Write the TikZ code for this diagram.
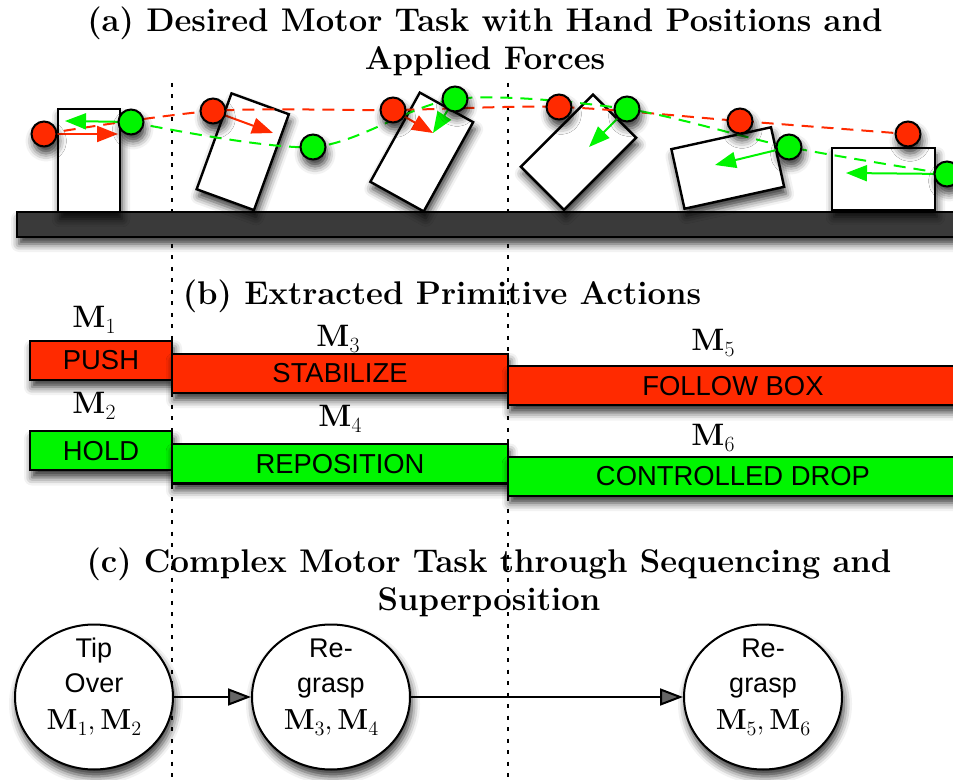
\documentclass[tikz,border=0pt]{standalone}
\usepackage{amsmath}
\usepackage{fontspec}
\setsansfont{Liberation Sans}
\usepackage{tikz}
\usetikzlibrary{arrows.meta, positioning, shapes.geometric, shadows.blur}
\definecolor{handred}{HTML}{FF2A00}
\definecolor{handgreen}{HTML}{00F500}
\definecolor{floorgray}{HTML}{3A3A3A}
\newcommand{\prim}[1]{\textbf{M}\raisebox{-0.2em}{\scalebox{0.7}{#1}}}
\newcommand{\primpair}[2]{{\fontsize{14.5}{17}\selectfont\rmfamily
  \textbf{M}\raisebox{-0.2em}{\scalebox{0.7}{#1}},\,\textbf{M}\raisebox{-0.2em}{\scalebox{0.7}{#2}}}}

\begin{document}
\begin{tikzpicture}[
        x=0.5pt, y=-0.5pt,
        soft/.style={blur shadow={shadow xshift=1pt, shadow yshift=-3.5pt,
                    shadow blur radius=4pt, shadow opacity=80}},
        title/.style={font=\fontsize{16.4}{19}\selectfont\bfseries, align=center, inner sep=0pt},
        crate/.style={rectangle, draw, line width=1.2pt, fill=white, minimum width=30.5pt,
                    minimum height=51pt, inner sep=0pt, soft},
        hand/.style={circle, draw, line width=1pt, minimum size=12.5pt, inner sep=0pt, soft},
        trail/.style={dash pattern=on 6pt off 4pt, line width=1pt},
        force/.style={-{Triangle[length=10.5pt, width=8pt]}, line width=1pt},
        act/.style={rectangle, draw, line width=1pt, minimum height=19.5pt, inner sep=0pt,
                    font=\sffamily\fontsize{13.7}{15}\selectfont, soft},
        mlab/.style={inner sep=0pt, font=\fontsize{15.5}{17}\selectfont},
        phase/.style={ellipse, draw, line width=1pt, fill=white, minimum width=79pt,
                    minimum height=72.5pt, inner sep=0pt,
                    font=\sffamily\fontsize{13.5}{17.5}\selectfont, soft},
        seq/.style={-{Triangle[length=11.5pt, width=8.5pt]}, line width=1pt},
        divider/.style={line width=1.1pt, dash pattern=on 2pt off 3.75pt}
      ]
        \useasboundingbox (0,0) rectangle (953,780);

        % phase borders
        \draw[divider] (172,83) -- (172,780);
        \draw[divider] (508,83) -- (508,780);

        % (a) the box being tipped over
        \node[title] (ttla) at (485,41) {(a) Desired Motor Task with Hand Positions and\\Applied Forces};
        \draw[line width=1.2pt, fill=floorgray, soft] (17,212) rectangle (965,237);
        \node[crate, minimum width=31pt, minimum height=51.5pt] (box1) at (89,160.5) {};
        \node[crate, rotate=-20] (box2) at (242.75,151.75) {};
        \node[crate, rotate=-29] (box3) at (421.75,152) {};
        \node[crate, rotate=-45] (box4) at (578.5,152.25) {};
        \node[crate, minimum width=51pt, minimum height=30.5pt, rotate=12.4] (box5) at (727.75,168) {};
        \node[crate, minimum width=51.5pt, minimum height=31pt] (box6) at (883.5,179) {};

        \coordinate (r1) at (44,134);  \coordinate (g1) at (131,122);
        \coordinate (r2) at (213,111); \coordinate (g2) at (313,147);
        \coordinate (r3) at (393,110); \coordinate (g3) at (455,99);
        \coordinate (r4) at (559,107); \coordinate (g4) at (627,109);
        \coordinate (r5) at (740,121); \coordinate (g5) at (789,147);
        \coordinate (r6) at (908,134); \coordinate (g6) at (947,174);

        \draw[trail, handred] plot[smooth] coordinates {(r1) (r2) (r3) (r4) (r5) (r6)};
        \draw[trail, handgreen] plot[smooth] coordinates {(g1) (g2) (g3) (g4) (g5) (g6)};

        \coordinate (fr1) at (118,134); \coordinate (fg1) at (65,121);
        \coordinate (fr2) at (273,133);
        \coordinate (fr3) at (433,133); \coordinate (fg3) at (433,133);
        \coordinate (fg4) at (589,147);
        \coordinate (fg5) at (715,165);
        \coordinate (fg6) at (846,173);
        \draw[force, handred] (r1) -- (fr1);
        \draw[force, handred] (r2) -- (fr2);
        \draw[force, handred] (r3) -- (fr3);
        \draw[force, handgreen] (g1) -- (fg1);
        \draw[force, handgreen] (g3) -- (fg3);
        \draw[force, handgreen] (g4) -- (fg4);
        \draw[force, handgreen] (g5) -- (fg5);
        \draw[force, handgreen] (g6) -- (fg6);

        \foreach \i in {1,...,6} {
          \node[hand, fill=handred] (rh\i) at (r\i) {};
          \node[hand, fill=handgreen] (gh\i) at (g\i) {};
        }

        % (b) primitives
        \node[title] (ttlb) at (442,296) {(b) Extracted Primitive Actions};
        \node[act, fill=handred, minimum width=71pt] (push) at (101,360.5) {PUSH};
        \node[act, fill=handred, minimum width=168pt] (stab) at (340,373.5) {STABILIZE};
        \node[act, fill=handred, minimum width=225pt] (follow) at (733,386) {FOLLOW BOX};
        \node[act, fill=handgreen, minimum width=71pt] (hold) at (101,451) {HOLD};
        \node[act, fill=handgreen, minimum width=168pt] (repos) at (340,464) {REPOSITION};
        \node[act, fill=handgreen, minimum width=225pt] (drop) at (733,476.5) {CONTROLLED DROP};
        \node[mlab] (m1) at (94,320) {\prim{1}};
        \node[mlab] (m2) at (94,406) {\prim{2}};
        \node[mlab] (m3) at (338,339) {\prim{3}};
        \node[mlab] (m4) at (340,419) {\prim{4}};
        \node[mlab] (m5) at (713,343) {\prim{5}};
        \node[mlab] (m6) at (713,438) {\prim{6}};

        % (c) sequence
        \node[title] (ttlc) at (489,582) {(c) Complex Motor Task through Sequencing and\\Superposition};
        \node[phase] (tip) at (94,697)
          {\raisebox{1.5pt}[0pt][0pt]{\begin{tabular}{@{}c@{}}Tip\\Over\\[1pt]\primpair{1}{2}\end{tabular}}};
        \node[phase, right=38.5pt of tip] (regrasp)
          {\raisebox{1.5pt}[0pt][0pt]{\begin{tabular}{@{}c@{}}Re-\\grasp\\[1pt]\primpair{3}{4}\end{tabular}}};
        \node[phase, right=136pt of regrasp] (regraspb)
          {\raisebox{1.5pt}[0pt][0pt]{\begin{tabular}{@{}c@{}}Re-\\grasp\\[1pt]\primpair{5}{6}\end{tabular}}};
        \draw[seq] (tip) -- (regrasp);
        \draw[seq] (regrasp) -- (regraspb);
      \end{tikzpicture}
\end{document}
